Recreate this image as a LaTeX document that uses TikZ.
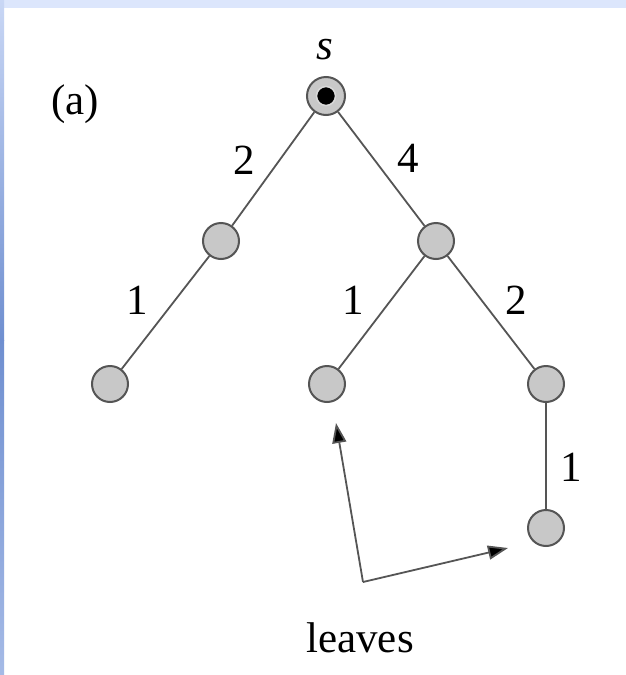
\documentclass[tikz,border=0pt]{standalone}
\usepackage{fontspec}
\setmainfont{Liberation Serif}
\usetikzlibrary{arrows.meta}
\definecolor{bandtop}{HTML}{DCE6FC}
\definecolor{bandlight}{HTML}{C9D7F5}
\definecolor{banddark}{HTML}{6F8FD0}
\definecolor{nodefill}{HTML}{C8C8C8}
\definecolor{linegray}{HTML}{555555}
\begin{document}
\begin{tikzpicture}[x=1pt,y=-1pt,
  vert/.style={circle,draw=linegray,fill=nodefill,line width=2pt,minimum size=36pt,inner sep=0pt},
  edge/.style={draw=linegray,line width=1.8pt},
  lbl/.style={font=\fontsize{43}{50}\selectfont,inner sep=0pt},
  ptr/.style={draw=linegray,line width=1.8pt,-{Triangle[length=20pt,width=14pt,fill=black]}}]
\useasboundingbox (0,0) rectangle (626,675);
\fill[white] (0,0) rectangle (626,675);
\fill[bandtop] (0,0) rectangle (626,8);
\shade[top color=bandlight,bottom color=banddark] (0,0) rectangle (4,340);
\shade[top color=banddark,bottom color=bandlight!60!banddark] (0,340) rectangle (4,675);
% nodes
\node[vert,minimum size=38pt] (s) at (326,96) {};
\node[circle,fill=black,draw=black!15,line width=1.5pt,minimum size=19pt,inner sep=0pt] (sin) at (326,96) {};
\node[vert] (l1) at (221,241) {};
\node[vert] (r1) at (436,241) {};
\node[vert] (a) at (110,384) {};
\node[vert] (b) at (327,384) {};
\node[vert] (c) at (546,384) {};
\node[vert] (d) at (546,528) {};
% edges
\draw[edge] (s) -- (l1);
\draw[edge] (s) -- (r1);
\draw[edge] (l1) -- (a);
\draw[edge] (r1) -- (b);
\draw[edge] (r1) -- (c);
\draw[edge] (c) -- (d);
% labels
\node[lbl] (ls) at (325,50) {\itshape s};
\node[lbl] (la) at (75,104) {(a)};
\node[lbl] (w1) at (244,160) {2};
\node[lbl] (w2) at (408,158) {4};
\node[lbl] (w3) at (137,300) {1};
\node[lbl] (w4) at (353,300) {1};
\node[lbl] (w5) at (516,300) {2};
\node[lbl] (w6) at (571,467) {1};
\node[lbl] (leaves) at (360,638) {leaves};
% pointers
\coordinate (j) at (363,582);
\coordinate (t1) at (336,423);
\coordinate (t2) at (508,548);
\draw[ptr] (j) -- (t1);
\draw[ptr] (j) -- (t2);
\end{tikzpicture}
\end{document}
